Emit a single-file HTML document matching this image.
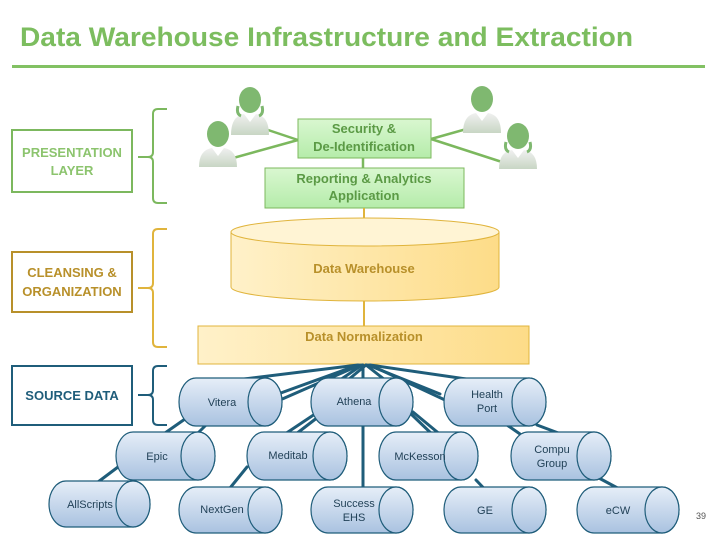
<!DOCTYPE html>
<html><head><meta charset="utf-8"><style>
body{margin:0;background:#fff;}
svg{display:block;font-family:"Liberation Sans",sans-serif;}
</style></head><body>
<svg width="720" height="540" viewBox="0 0 720 540" xmlns="http://www.w3.org/2000/svg">
<defs>
<linearGradient id="gg" x1="0" y1="0" x2="0" y2="1"><stop offset="0" stop-color="#d9f7d0"/><stop offset="1" stop-color="#b5ecaa"/></linearGradient>
<linearGradient id="yg" x1="0" y1="0" x2="1" y2="0"><stop offset="0" stop-color="#fff1c9"/><stop offset="1" stop-color="#fddc88"/></linearGradient>
<linearGradient id="bg" x1="0" y1="0" x2="0" y2="1"><stop offset="0" stop-color="#e6eef8"/><stop offset="1" stop-color="#a9c2e0"/></linearGradient>
<linearGradient id="pg" x1="0" y1="0" x2="0" y2="1"><stop offset="0" stop-color="#f0f0f0"/><stop offset="1" stop-color="#c8d6c4"/></linearGradient>
</defs>
<text x="20" y="46" font-size="27" font-weight="bold" fill="#7cbd5f" textLength="613" lengthAdjust="spacingAndGlyphs">Data Warehouse Infrastructure and Extraction</text>
<rect x="12" y="65" width="693" height="3" fill="#82c163"/>

<!-- left boxes -->
<rect x="12" y="130" width="120" height="62" fill="#fff" stroke="#7cb85e" stroke-width="2"/>
<text x="72" y="157" font-size="13" font-weight="bold" fill="#8cc46e" text-anchor="middle">PRESENTATION</text>
<text x="72" y="175" font-size="13" font-weight="bold" fill="#8cc46e" text-anchor="middle">LAYER</text>
<rect x="12" y="252" width="120" height="60" fill="#fff" stroke="#b8902a" stroke-width="2"/>
<text x="72" y="277" font-size="13" font-weight="bold" fill="#b8902a" text-anchor="middle">CLEANSING &amp;</text>
<text x="72" y="296" font-size="13" font-weight="bold" fill="#b8902a" text-anchor="middle">ORGANIZATION</text>
<rect x="12" y="366" width="120" height="59" fill="#fff" stroke="#1f5d7a" stroke-width="2"/>
<text x="72" y="400" font-size="13" font-weight="bold" fill="#1f5d7a" text-anchor="middle">SOURCE DATA</text>

<!-- braces -->
<g fill="none" stroke-width="2">
<path d="M167 109 H158 Q153 109 153 114 V152 Q153 157 148 157 Q153 157 153 162 V198 Q153 203 158 203 H167" stroke="#7cb85e"/>
<line x1="138" y1="157" x2="150" y2="157" stroke="#7cb85e"/>
<path d="M167 229 H158 Q153 229 153 234 V283 Q153 288 148 288 Q153 288 153 293 V342 Q153 347 158 347 H167" stroke="#e0b43c"/>
<line x1="138" y1="288" x2="150" y2="288" stroke="#e0b43c"/>
<path d="M167 366 H158 Q153 366 153 371 V390 Q153 395 148 395 Q153 395 153 400 V420 Q153 425 158 425 H167" stroke="#1f5d7a"/>
<line x1="138" y1="395" x2="150" y2="395" stroke="#1f5d7a"/>
</g>

<!-- people connectors -->
<g stroke="#7cb85e" stroke-width="2.5">
<line x1="262" y1="128" x2="298" y2="140"/>
<line x1="226" y1="160" x2="298" y2="140"/>
<line x1="431" y1="139" x2="470" y2="128"/>
<line x1="431" y1="139" x2="502" y2="162"/>
<line x1="363" y1="158" x2="363" y2="168"/>
</g>
<!-- people -->
<g fill="#7fb870">
<g transform="translate(250,100)"><path d="M-19 35 Q-19 16 -6 14 L6 14 Q19 16 19 35 Z" fill="url(#pg)"/><path d="M-6 14 L0 22 L6 14Z" fill="#fff"/><ellipse cx="0" cy="0" rx="11" ry="13"/><path d="M-12 6 Q-14 14 -9 16 M12 6 Q14 14 9 16" stroke="#7fb870" stroke-width="3" fill="none"/></g>
<g transform="translate(218,134)"><path d="M-19 33 Q-19 16 -6 14 L6 14 Q19 16 19 33 Z" fill="url(#pg)"/><path d="M-6 14 L0 22 L6 14Z" fill="#fff"/><ellipse cx="0" cy="0" rx="11" ry="13"/></g>
<g transform="translate(482,99)"><path d="M-19 34 Q-19 16 -6 14 L6 14 Q19 16 19 34 Z" fill="url(#pg)"/><path d="M-6 14 L0 22 L6 14Z" fill="#fff"/><ellipse cx="0" cy="0" rx="11" ry="13"/></g>
<g transform="translate(518,136)"><path d="M-19 33 Q-19 16 -6 14 L6 14 Q19 16 19 33 Z" fill="url(#pg)"/><path d="M-6 14 L0 22 L6 14Z" fill="#fff"/><ellipse cx="0" cy="0" rx="11" ry="13"/><path d="M-12 6 Q-14 14 -9 16 M12 6 Q14 14 9 16" stroke="#7fb870" stroke-width="3" fill="none"/></g>
</g>

<!-- green boxes -->
<rect x="298" y="119" width="133" height="39" fill="url(#gg)" stroke="#7cb85e"/>
<text x="364" y="133" font-size="13" font-weight="bold" fill="#5b9a45" text-anchor="middle">Security &amp;</text>
<text x="364" y="151" font-size="13" font-weight="bold" fill="#5b9a45" text-anchor="middle">De-Identification</text>
<rect x="265" y="168" width="199" height="40" fill="url(#gg)" stroke="#7cb85e"/>
<text x="364" y="183" font-size="13" font-weight="bold" fill="#5b9a45" text-anchor="middle">Reporting &amp; Analytics</text>
<text x="364" y="200" font-size="13" font-weight="bold" fill="#5b9a45" text-anchor="middle">Application</text>

<!-- warehouse -->
<line x1="364" y1="208" x2="364" y2="221" stroke="#e0b43c" stroke-width="2"/>
<path d="M231 232 V287 A134 14 0 0 0 499 287 V232" fill="url(#yg)" stroke="#e0b43c"/>
<ellipse cx="365" cy="232" rx="134" ry="14" fill="#fff4d4" stroke="#e0b43c"/>
<text x="364" y="273" font-size="13" font-weight="bold" fill="#b8902a" text-anchor="middle">Data Warehouse</text>
<line x1="364" y1="301" x2="364" y2="326" stroke="#e0b43c" stroke-width="2"/>
<rect x="198" y="326" width="331" height="38" fill="url(#yg)" stroke="#e0b43c"/>
<text x="364" y="341" font-size="13" font-weight="bold" fill="#b8902a" text-anchor="middle" dy="0">Data Normalization</text>

<!-- connectors -->
<g stroke="#1f5d7a" stroke-width="3" stroke-linecap="round">
<line x1="358" y1="365" x2="228" y2="381"/>
<line x1="358" y1="365" x2="278" y2="394"/>
<line x1="360" y1="365" x2="280" y2="400"/>
<line x1="362" y1="365" x2="340" y2="380"/>
<line x1="366" y1="365" x2="385" y2="380"/>
<line x1="368" y1="365" x2="440" y2="394"/>
<line x1="370" y1="365" x2="445" y2="400"/>
<line x1="370" y1="365" x2="480" y2="381"/>
<line x1="363" y1="365" x2="363" y2="490"/>
<line x1="366" y1="365" x2="348" y2="380"/>
<line x1="185" y1="419" x2="165" y2="433"/>
<line x1="211" y1="420" x2="198" y2="433"/>
<line x1="318" y1="412" x2="285" y2="434"/>
<line x1="322" y1="414" x2="296" y2="434"/>
<line x1="410" y1="413" x2="434" y2="436"/>
<line x1="413" y1="412" x2="442" y2="436"/>
<line x1="507" y1="425" x2="520" y2="434"/>
<line x1="537" y1="425" x2="561" y2="434"/>
<line x1="118" y1="467" x2="98" y2="482"/>
<line x1="247" y1="467" x2="230" y2="488"/>
<line x1="476" y1="480" x2="495" y2="500"/>
<line x1="597" y1="477" x2="625" y2="492"/>
</g>

<!-- cylinders -->
<g stroke="#1f5d7a" stroke-width="1.2" font-size="11" fill="#1f3f55" text-anchor="middle">
<g id="c" ></g>
</g>
<g stroke="#1f5d7a" stroke-width="1.2">
<path d="M196 378 H265 A17 24 0 0 1 265 426 H196 A17 24 0 0 1 196 378Z" fill="url(#bg)"/><ellipse cx="265" cy="402" rx="17" ry="24" fill="url(#bg)"/>
<path d="M328 378 H396 A17 24 0 0 1 396 426 H328 A17 24 0 0 1 328 378Z" fill="url(#bg)"/><ellipse cx="396" cy="402" rx="17" ry="24" fill="url(#bg)"/>
<path d="M461 378 H529 A17 24 0 0 1 529 426 H461 A17 24 0 0 1 461 378Z" fill="url(#bg)"/><ellipse cx="529" cy="402" rx="17" ry="24" fill="url(#bg)"/>
<path d="M133 432 H198 A17 24 0 0 1 198 480 H133 A17 24 0 0 1 133 432Z" fill="url(#bg)"/><ellipse cx="198" cy="456" rx="17" ry="24" fill="url(#bg)"/>
<path d="M264 432 H330 A17 24 0 0 1 330 480 H264 A17 24 0 0 1 264 432Z" fill="url(#bg)"/><ellipse cx="330" cy="456" rx="17" ry="24" fill="url(#bg)"/>
<path d="M396 432 H461 A17 24 0 0 1 461 480 H396 A17 24 0 0 1 396 432Z" fill="url(#bg)"/><ellipse cx="461" cy="456" rx="17" ry="24" fill="url(#bg)"/>
<path d="M528 432 H594 A17 24 0 0 1 594 480 H528 A17 24 0 0 1 528 432Z" fill="url(#bg)"/><ellipse cx="594" cy="456" rx="17" ry="24" fill="url(#bg)"/>
<path d="M66 481 H133 A17 23 0 0 1 133 527 H66 A17 23 0 0 1 66 481Z" fill="url(#bg)"/><ellipse cx="133" cy="504" rx="17" ry="23" fill="url(#bg)"/>
<path d="M196 487 H265 A17 23 0 0 1 265 533 H196 A17 23 0 0 1 196 487Z" fill="url(#bg)"/><ellipse cx="265" cy="510" rx="17" ry="23" fill="url(#bg)"/>
<path d="M328 487 H396 A17 23 0 0 1 396 533 H328 A17 23 0 0 1 328 487Z" fill="url(#bg)"/><ellipse cx="396" cy="510" rx="17" ry="23" fill="url(#bg)"/>
<path d="M461 487 H529 A17 23 0 0 1 529 533 H461 A17 23 0 0 1 461 487Z" fill="url(#bg)"/><ellipse cx="529" cy="510" rx="17" ry="23" fill="url(#bg)"/>
<path d="M594 487 H662 A17 23 0 0 1 662 533 H594 A17 23 0 0 1 594 487Z" fill="url(#bg)"/><ellipse cx="662" cy="510" rx="17" ry="23" fill="url(#bg)"/>
</g>
<g font-size="11" fill="#1f3f55" text-anchor="middle">
<text x="222" y="406">Vitera</text>
<text x="354" y="405">Athena</text>
<text x="487" y="398">Health</text><text x="487" y="412">Port</text>
<text x="157" y="460">Epic</text>
<text x="288" y="459">Meditab</text>
<text x="420" y="460">McKesson</text>
<text x="552" y="453">Compu</text><text x="552" y="467">Group</text>
<text x="90" y="508">AllScripts</text>
<text x="222" y="513">NextGen</text>
<text x="354" y="507">Success</text><text x="354" y="521">EHS</text>
<text x="485" y="514">GE</text>
<text x="618" y="514">eCW</text>
</g>
<text x="701" y="519" font-size="9" fill="#555" text-anchor="middle">39</text>
</svg>
</body></html>
